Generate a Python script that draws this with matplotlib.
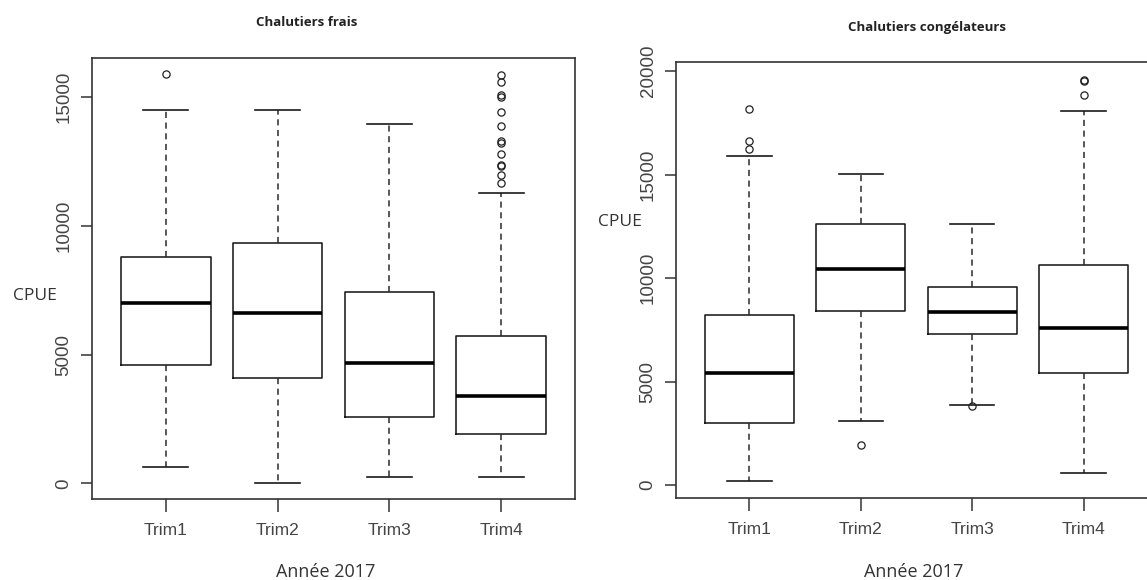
import numpy as np
import matplotlib.pyplot as plt

trims = ['Trim1', 'Trim2', 'Trim3', 'Trim4']

# Chalutiers frais : whislo, q1, med, q3, whishi
frais_lo = [620, 30, 260, 260]
frais_q1 = [4580, 4080, 2570, 1900]
frais_med = [7010, 6600, 4680, 3400]
frais_q3 = [8780, 9330, 7410, 5720]
frais_hi = [14480, 14510, 13950, 11290]
frais_out = [[15870], [], [],
             [15860, 15580, 15060, 15000, 14430, 13880, 13290, 13220,
              12800, 12360, 12300, 11950, 11670]]

# Chalutiers congélateurs
cong_lo = [200, 3090, 3870, 570]
cong_q1 = [3020, 8400, 7280, 5440]
cong_med = [5440, 10430, 8370, 7570]
cong_q3 = [8220, 12610, 9570, 10640]
cong_hi = [15900, 15010, 12610, 18060]
cong_out = [[18150, 16630, 16250], [1950], [3800], [19590, 19520, 18860]]

plt.rcParams['font.family'] = ['Liberation Sans', 'DejaVu Sans']

fig = plt.figure(figsize=(11.47, 5.8), dpi=100)
ax1 = fig.add_axes([92/1147, 81/580, 483/1147, 441/580])
ax2 = fig.add_axes([676/1147, 82/580, 481/1147, 436/580])

def draw(ax, lo, q1, med, q3, hi, out, ylim, yt, title, tx, ty, cx, cy):
    stats = []
    for i in range(4):
        stats.append(dict(whislo=lo[i], q1=q1[i], med=med[i], q3=q3[i],
                          whishi=hi[i], fliers=out[i], label=trims[i]))
    ax.bxp(stats, positions=[1, 2, 3, 4], widths=0.8,
           boxprops=dict(color='#1a1a1a', lw=1.15),
           medianprops=dict(color='black', lw=2.6, solid_capstyle='butt'),
           whiskerprops=dict(color='#2a2a2a', lw=1.1, ls=(0, (4, 3))),
           capprops=dict(color='#1a1a1a', lw=1.2),
           capwidths=0.4,
           flierprops=dict(marker='o', mfc='none', mec='#222222',
                           markersize=5.2, mew=0.9))
    ax.set_xlim(0.34, 4.66)
    ax.set_ylim(*ylim)
    ax.set_yticks(yt)
    ax.tick_params(axis='y', labelrotation=90, length=8, width=1.1,
                   color='#333333', labelcolor='#444444', labelsize=13.5, pad=6)
    ax.tick_params(axis='x', length=9, width=1.1, color='#333333',
                   labelcolor='#444444', labelsize=12.5, pad=8)
    for lab in ax.get_yticklabels():
        lab.set_va('center')
    for s in ax.spines.values():
        s.set_color('#333333')
        s.set_linewidth(1.2)
    fig.text(tx, ty, title, ha='center', va='center', fontsize=9.5,
             fontweight='bold', family=['Open Sans', 'DejaVu Sans'], color='#222222')
    fig.text(cx, cy, 'CPUE', ha='center', va='center', fontsize=12.5,
             family=['Open Sans', 'DejaVu Sans'], color='#333333')

draw(ax1, frais_lo, frais_q1, frais_med, frais_q3, frais_hi, frais_out,
     (-603, 16509), [0, 5000, 10000, 15000],
     'Chalutiers frais', 307/1147, 1 - 22/580, 35/1147, 1 - 296/580)
draw(ax2, cong_lo, cong_q1, cong_med, cong_q3, cong_hi, cong_out,
     (-622, 20444), [0, 5000, 10000, 15000, 20000],
     'Chalutiers congélateurs', 927/1147, 1 - 28/580, 620/1147, 1 - 222/580)

fig.text(326/1147, 1 - 572/580, 'Année 2017', ha='center', va='center',
         fontsize=13, family=['Open Sans', 'DejaVu Sans'], color='#333333')
fig.text(914/1147, 1 - 572/580, 'Année 2017', ha='center', va='center',
         fontsize=13, family=['Open Sans', 'DejaVu Sans'], color='#333333')

fig.savefig('out.png', dpi=100)
